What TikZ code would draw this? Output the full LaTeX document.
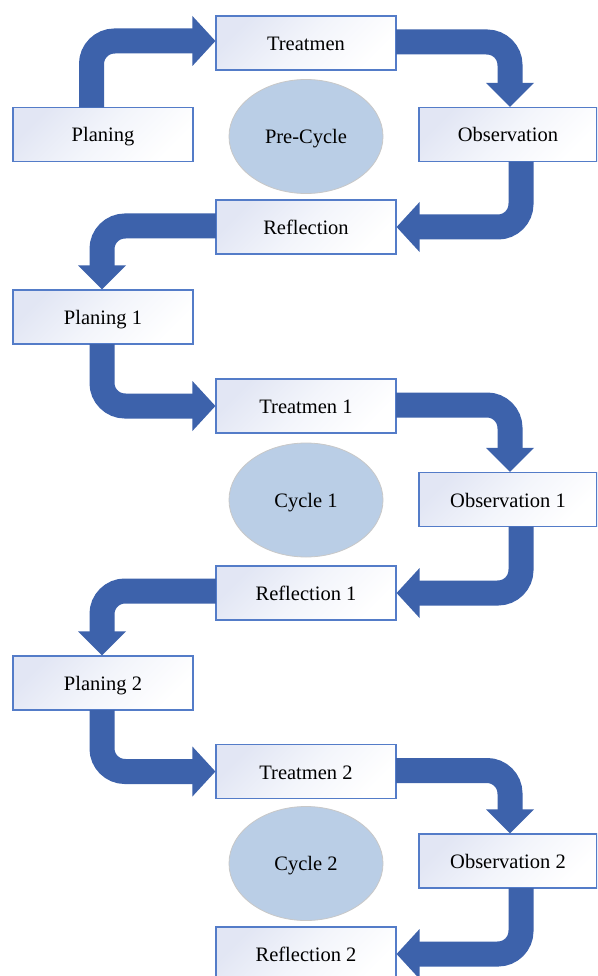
\documentclass[tikz,border=0pt]{standalone}
\usepackage{fontspec}
\setmainfont{Liberation Serif}
\usetikzlibrary{calc}
\definecolor{arrowc}{RGB}{61,98,171}
\definecolor{boxdraw}{RGB}{84,124,200}
\definecolor{boxtl}{RGB}{226,230,244}
\definecolor{boxmid}{RGB}{243,245,251}
\definecolor{ellfill}{RGB}{186,206,230}
\definecolor{elldraw}{RGB}{200,200,200}
\tikzset{
  stepbox/.style={draw=boxdraw, line width=1.2pt, top color=boxtl, bottom color=white, middle color=boxmid, shading angle=45,
    minimum width=180pt, minimum height=54pt, inner sep=0pt, text height=15pt, text depth=0pt,
    font=\fontsize{20.5}{24}\selectfont},
  cyc/.style={ellipse, draw=elldraw, line width=0.8pt, fill=ellfill, minimum width=154pt, minimum height=114pt,
    inner sep=0pt, text height=14pt, text depth=0pt, font=\fontsize{20.5}{24}\selectfont},
  shaft/.style={draw=arrowc, line width=25pt, rounded corners=23pt, line cap=butt},
}
\newcommand\headR[1]{\fill[arrowc] (#1) -- ++(-23,-25) -- ++(0,50) -- cycle;}
\newcommand\headL[1]{\fill[arrowc] (#1) -- ++(23,-25) -- ++(0,50) -- cycle;}
\newcommand\headD[1]{\fill[arrowc] (#1) -- ++(-24,-24) -- ++(48,0) -- cycle;}
\usetikzlibrary{shapes.geometric}
\begin{document}
\begin{tikzpicture}[x=1pt,y=-1pt]
\clip (0,0) rectangle (597,976);
\fill[white] (0,0) rectangle (597,976);
% cycle 0
\node[stepbox] (pl) at (103,134.5) {Planing};
\node[stepbox] (tm) at (306,43) {Treatmen};
\node[stepbox, minimum width=178pt] (ob) at (508,134.5) {Observation};
\node[stepbox] (rf) at (306,227) {Reflection};
\node[cyc] (c0) at (306,136.5) {Pre-Cycle};
% cycle 1
\node[stepbox] (p1) at (103,317) {Planing 1};
\node[stepbox] (t1) at (306,406) {Treatmen 1};
\node[stepbox, minimum width=178pt] (o1) at (508,499.5) {Observation 1};
\node[stepbox] (r1) at (306,593) {Reflection 1};
\node[cyc] (c1) at (306,500) {Cycle 1};
% cycle 2
\node[stepbox] (p2) at (103,683) {Planing 2};
\node[stepbox] (t2) at (306,771.5) {Treatmen 2};
\node[stepbox, minimum width=178pt] (o2) at (508,861) {Observation 2};
\node[stepbox] (r2) at (306,954) {Reflection 2};
\node[cyc] (c2) at (306,863.5) {Cycle 2};
% arrows cycle 0
\draw[shaft] ($(pl.north)+(-11.5,0.5)$) |- ($(tm.west)+(-22,-2)$);
\headR{$(tm.west)+(0,-2)$}
\draw[shaft] ($(tm.east)+(-0.5,-1)$) -| ($(ob.north)+(2,-23)$);
\headD{$(ob.north)+(2,0)$}
\draw[shaft] ($(ob.south)+(13,-0.5)$) |- ($(rf.east)+(22,0)$);
\headL{rf.east}
\draw[shaft] ($(rf.west)+(0.5,-1)$) -| ($(p1.north)+(-1,-23)$);
\headD{$(p1.north)+(-1,0)$}
% cycle 1
\draw[shaft] ($(p1.south)+(-1,-0.5)$) |- ($(t1.west)+(-22,0)$);
\headR{t1.west}
\draw[shaft] ($(t1.east)+(-0.5,-1)$) -| ($(o1.north)+(2,-23)$);
\headD{$(o1.north)+(2,0)$}
\draw[shaft] ($(o1.south)+(13,-0.5)$) |- ($(r1.east)+(22,0)$);
\headL{r1.east}
\draw[shaft] ($(r1.west)+(0.5,-2)$) -| ($(p2.north)+(-1,-23)$);
\headD{$(p2.north)+(-1,0)$}
% cycle 2
\draw[shaft] ($(p2.south)+(-1,-0.5)$) |- ($(t2.west)+(-22,0)$);
\headR{t2.west}
\draw[shaft] ($(t2.east)+(-0.5,-1)$) -| ($(o2.north)+(2,-23)$);
\headD{$(o2.north)+(2,0)$}
\draw[shaft] ($(o2.south)+(13,-0.5)$) |- ($(r2.east)+(22,0)$);
\headL{r2.east}
\end{tikzpicture}
\end{document}
